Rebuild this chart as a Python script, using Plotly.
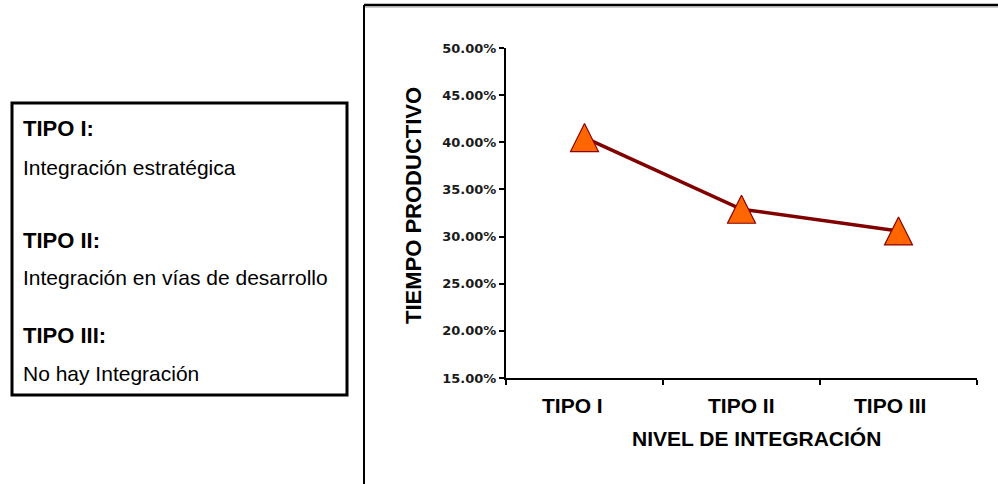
import plotly.graph_objects as go

# Data
categorias = ["TIPO I", "TIPO II", "TIPO III"]
tiempo_productivo = [0.405, 0.329, 0.306]
y_ticks = [0.15, 0.20, 0.25, 0.30, 0.35, 0.40, 0.45, 0.50]

leyenda_titulos = ["TIPO I:", "TIPO II:", "TIPO III:"]
leyenda_textos = ["Integración estratégica",
                  "Integración en vías de desarrollo",
                  "No hay Integración"]

# Canvas and plot area (pixels)
W, H = 998, 484
PL, PR, PT, PB = 506, 977, 48, 378


def px_x(px):
    return (px - PL) / (PR - PL)


def px_y(py):
    return (PB - py) / (PB - PT)


fig = go.Figure()

fig.add_trace(go.Scatter(
    x=categorias,
    y=tiempo_productivo,
    mode="lines+markers",
    line=dict(color="#800000", width=3.5),
    marker=dict(symbol="arrow-down", angle=180, standoff=14, size=28,
                color="#FF6600", line=dict(color="#8B0000", width=1.2)),
    cliponaxis=False,
    showlegend=False,
))

fig.update_layout(
    width=W, height=H,
    margin=dict(l=PL, r=W - PR, t=PT, b=H - PB, pad=0),
    paper_bgcolor="white",
    plot_bgcolor="white",
    font=dict(family="Liberation Sans, Arial", color="black"),
    xaxis=dict(
        type="category",
        range=[-0.5, 2.5],
        tickson="boundaries",
        ticks="outside", ticklen=5, tickwidth=1.5, tickcolor="black",
        showline=True, linecolor="black", linewidth=2,
        showgrid=False, zeroline=False,
        showticklabels=False,
    ),
    yaxis=dict(
        range=[0.15, 0.50],
        tickvals=y_ticks,
        tickformat=".2%",
        ticks="outside", ticklen=5, tickwidth=1.5, tickcolor="black",
        showline=True, linecolor="black", linewidth=2,
        showgrid=False, zeroline=False,
        tickfont=dict(family="DejaVu Sans", size=13, color="#1a1a1a",
                      weight="bold"),
    ),
)

annotations = []

# Category labels under the axis
label_shift = [-12, 0, -9]
for cat, dx in zip(categorias, label_shift):
    annotations.append(dict(
        x=cat, y=px_y(405), xref="x", yref="paper", xshift=dx,
        text=f"<b>{cat}</b>", showarrow=False,
        font=dict(family="Liberation Sans", size=21, color="black"),
        xanchor="center", yanchor="middle",
    ))

# Axis titles
annotations.append(dict(
    x=px_x(756), y=px_y(438), xref="paper", yref="paper",
    text="<b>NIVEL DE INTEGRACIÓN</b>", showarrow=False,
    font=dict(family="Liberation Sans", size=21, color="black"),
    xanchor="center", yanchor="middle",
))
annotations.append(dict(
    x=px_x(413), y=px_y(206), xref="paper", yref="paper",
    text="<b>TIEMPO PRODUCTIVO</b>", showarrow=False, textangle=-90,
    font=dict(family="Liberation Sans", size=22, color="black"),
    xanchor="center", yanchor="middle",
))

# Description box on the left
title_y = [128, 240, 335]
text_y = [167, 277, 373]
for t, ty, d, dy in zip(leyenda_titulos, title_y, leyenda_textos, text_y):
    annotations.append(dict(
        x=px_x(21), y=px_y(ty), xref="paper", yref="paper",
        text=f"<b>{t}</b>", showarrow=False,
        font=dict(family="Liberation Sans", size=22, color="black"),
        xanchor="left", yanchor="middle",
    ))
    annotations.append(dict(
        x=px_x(21), y=px_y(dy), xref="paper", yref="paper",
        text=d, showarrow=False,
        font=dict(family="Liberation Sans", size=21, color="black"),
        xanchor="left", yanchor="middle",
    ))

fig.update_layout(annotations=annotations)

shapes = [
    # chart frame (left and top edges)
    dict(type="line", xref="paper", yref="paper",
         x0=px_x(364), x1=px_x(364), y0=px_y(5), y1=px_y(490),
         line=dict(color="black", width=2)),
    dict(type="line", xref="paper", yref="paper",
         x0=px_x(364), x1=px_x(1005), y0=px_y(5), y1=px_y(5),
         line=dict(color="black", width=2.5)),
    dict(type="line", xref="paper", yref="paper",
         x0=px_x(365), x1=px_x(1005), y0=px_y(7), y1=px_y(7),
         line=dict(color="#9a9a9a", width=1)),
    # description box
    dict(type="rect", xref="paper", yref="paper",
         x0=px_x(12), x1=px_x(347), y0=px_y(103), y1=px_y(395),
         line=dict(color="black", width=3), fillcolor="rgba(0,0,0,0)"),
]
fig.update_layout(shapes=shapes)

fig.write_html("out.html")
